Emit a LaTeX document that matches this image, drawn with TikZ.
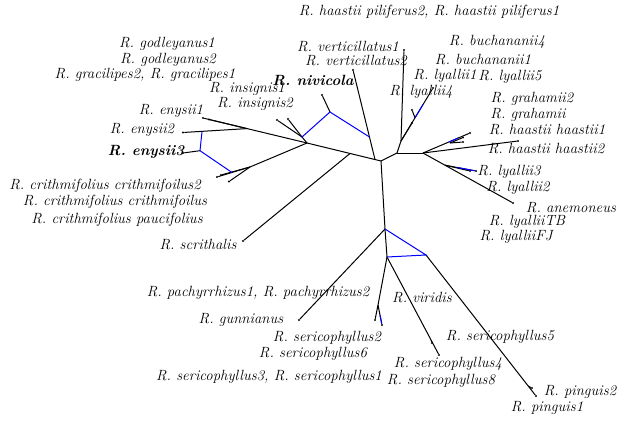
\documentclass[tikz,border=0pt]{standalone}
\usetikzlibrary{calc}
\begin{document}
\begin{tikzpicture}[x=1pt,y=-1pt,
  br/.style={line width=1.0pt,black},
  bl/.style={line width=1.0pt,blue},
  lab/.style={font=\fontsize{14.8}{16}\selectfont\itshape,inner sep=0pt,anchor=center},
  blab/.style={lab,font=\fontsize{14.8}{16}\selectfont\bfseries\itshape},
  tip/.style={circle,fill=black,inner sep=0pt,minimum size=2.2pt}]
\useasboundingbox (0,0) rectangle (617,420);
% internal points
\coordinate (C) at (381,161);
\coordinate (L) at (307,143);
\coordinate (Mv) at (375,159.5);
\coordinate (Ms) at (350,153.5);
\coordinate (N) at (302,137);
\coordinate (Nv) at (330,112);
\coordinate (Bv) at (369.5,137);
\coordinate (E12) at (247,128.6);
\coordinate (Be2) at (202,131.6);
\coordinate (Be3) at (200,150.7);
\coordinate (X) at (250,167);
\coordinate (Bx) at (232,172.5);
\coordinate (R1) at (397,153);
\coordinate (R2) at (401,141);
\coordinate (R3) at (423,153);
\coordinate (Hs) at (450,143);
\coordinate (Ly) at (445,165.2);
\coordinate (D) at (385,229);
\coordinate (P) at (426,255);
\coordinate (Q) at (387,257);
\coordinate (Sq) at (378,305);
\coordinate (Lb1) at (415,117.8);
\coordinate (Lb2) at (423,104.5);
% tips
\node[tip] (Tv) at (353,70) {};
\node[tip] (Tn) at (322,95) {};
\node[tip] (Ti1) at (277,120) {};
\node[tip] (Ti2) at (288,119) {};
\node[tip] (Te1) at (203,118) {};
\node[tip] (Te1b) at (209,119.5) {};
\node[tip] (Te2) at (183,132.5) {};
\node[tip] (Te3) at (183,153) {};
\node[tip] (Tc1) at (217,177) {};
\node[tip] (Tc2) at (221,175) {};
\node[tip] (Tc3) at (229,181.5) {};
\node[tip] (Ts) at (243,241) {};
\node[tip] (Tb) at (404,50) {};
\node[tip] (Tl4) at (433,88) {};
\node[tip] (Tl4b) at (412,110) {};
\node[tip] (Tl4c) at (412,123) {};
\node[tip] (Th1) at (470,133) {};
\node[tip] (Th2) at (463,137.5) {};
\node[tip] (Th3) at (463,142) {};
\node[tip] (Th4) at (518,141) {};
\node[tip] (Tl3) at (476,171) {};
\node[tip] (Tl3b) at (470,171) {};
\node[tip] (Ta) at (513,203) {};
\node[tip] (Tg) at (299,320) {};
\node[tip] (Tsa) at (375,320) {};
\node[tip] (Tsb) at (382,325) {};
\node[tip] (Ts4) at (439,355) {};
\node[tip] (Ts4b) at (432,343) {};
\node[tip] (Tp) at (536,396) {};
\node[tip] (Tpb) at (532,388) {};
% black branches
\draw[br] (L) -- (C);
\draw[br] (Mv) -- (Tv);
\draw[br] (Ms) -- (Ts);
\draw[br] (L) -- (N);
\draw[br] (N) -- (Ti1);
\draw[br] (N) -- (Ti2);
\draw[br] (Nv) -- (Tn);
\draw[br] (L) -- (Te1);
\draw[br] (E12) -- (Te1b);
\draw[br] (E12) -- (Te2);
\draw[br] (Be3) -- (Te3);
\draw[br] (L) -- (X);
\draw[br] (X) -- (Tc1);
\draw[br] (X) -- (Tc2);
\draw[br] (X) -- (Tc3);
\draw[br] (C) -- (R1);
\draw[br] (R1) -- (R2);
\draw[br] (R2) -- (Tb);
\draw[br] (R2) -- (Tl4);
\draw[br] (Lb1) -- (Tl4b);
\draw[br] (R2) -- (Tl4c);
\draw[br] (R1) -- (R3);
\draw[br] (R3) -- (Th1);
\draw[br] (Hs) -- (Th2);
\draw[br] (Hs) -- (Th3);
\draw[br] (R3) -- (Th4);
\draw[br] (R3) -- (Ta);
\draw[br] (Ly) -- (Tl3);
\draw[br] (Ly) -- (Tl3b);
\draw[br] (C) -- (D);
\draw[br] (D) -- (Tg);
\draw[br] (D) -- (Q);
\draw[br] (Q) -- (Sq) -- (Tsa);
\draw[br] (Sq) -- (Tsb);
\draw[br] (Q) -- (Ts4);
\draw[br] (Ts4b) -- ($(Q)!0.85!(Ts4)$);
\draw[br] (P) -- (Tp);
\draw[br] (Tpb) -- ($(P)!0.93!(Tp)$);
% blue reticulations
\draw[bl] (N) -- (Nv) -- (Bv);
\draw[bl] (Be2) -- (Be3) -- (Bx);
\draw[bl] (Lb1) -- (Lb2);
\draw[bl] ($(R3)!0.55!(Th1)$) -- ($(R3)!0.75!(Th1)$);
\draw[bl] ($(Ly)!0.4!(Tl3)$) -- (Tl3);
\draw[bl] (D) -- (P) -- (Q);
\draw[bl] ($(Sq)!0.5!(Tsb)$) -- (Tsb);
% labels
\node[lab] (l1) at (429,12) {R. haastii piliferus2, R. haastii piliferus1};
\node[lab] (l2) at (167,44) {R. godleyanus1};
\node[lab] (l3) at (168,60) {R. godleyanus2};
\node[lab] (l4) at (145,75) {R. gracilipes2, R. gracilipes1};
\node[lab] (l5) at (247,88.5) {R. insignis1};
\node[lab] (l6) at (255,104) {R. insignis2};
\node[lab] (l7) at (171,111) {R. enysii1};
\node[lab] (l8) at (142,130) {R. enysii2};
\node[blab] (l9) at (146,152) {R. enysii3};
\node[lab] (l10) at (105,186) {R. crithmifolius crithmifoilus2};
\node[lab] (l11) at (115,202) {R. crithmifolius crithmifoilus};
\node[lab] (l12) at (117,220) {R. crithmifolius paucifolius};
\node[lab] (l13) at (198,245) {R. scrithalis};
\node[lab] (l14) at (348,47) {R. verticillatus1};
\node[lab] (l15) at (356,61) {R. verticillatus2};
\node[blab] (l16) at (313,80) {R. nivicola};
\node[lab] (l17) at (497,42) {R. buchananii4};
\node[lab] (l18) at (483,60) {R. buchananii1};
\node[lab] (l19) at (445,76) {R. lyallii1};
\node[lab] (l20) at (510,77) {R. lyallii5};
\node[lab] (l21) at (421,92) {R. lyallii4};
\node[lab] (l22) at (532,99) {R. grahamii2};
\node[lab] (l23) at (528,115) {R. grahamii};
\node[lab] (l24) at (547,130) {R. haastii haastii1};
\node[lab] (l25) at (546,149) {R. haastii haastii2};
\node[lab] (l26) at (509,172) {R. lyallii3};
\node[lab] (l27) at (518,188) {R. lyallii2};
\node[lab] (l28) at (571,208) {R. anemoneus};
\node[lab] (l29) at (527,222) {R. lyalliiTB};
\node[lab] (l30) at (516,237) {R. lyalliiFJ};
\node[lab] (l31) at (258,293) {R. pachyrrhizus1, R. pachyrrhizus2};
\node[lab] (l32) at (422,298) {R. viridis};
\node[lab] (l33) at (241,320) {R. gunnianus};
\node[lab] (l34) at (327,338) {R. sericophyllus2};
\node[lab] (l35) at (313,354) {R. sericophyllus6};
\node[lab] (l36) at (500,337) {R. sericophyllus5};
\node[lab] (l37) at (448,364) {R. sericophyllus4};
\node[lab] (l38) at (441,381) {R. sericophyllus8};
\node[lab] (l39) at (269,377) {R. sericophyllus3, R. sericophyllus1};
\node[lab] (l40) at (580,392) {R. pinguis2};
\node[lab] (l41) at (547,408) {R. pinguis1};
\end{tikzpicture}
\end{document}
